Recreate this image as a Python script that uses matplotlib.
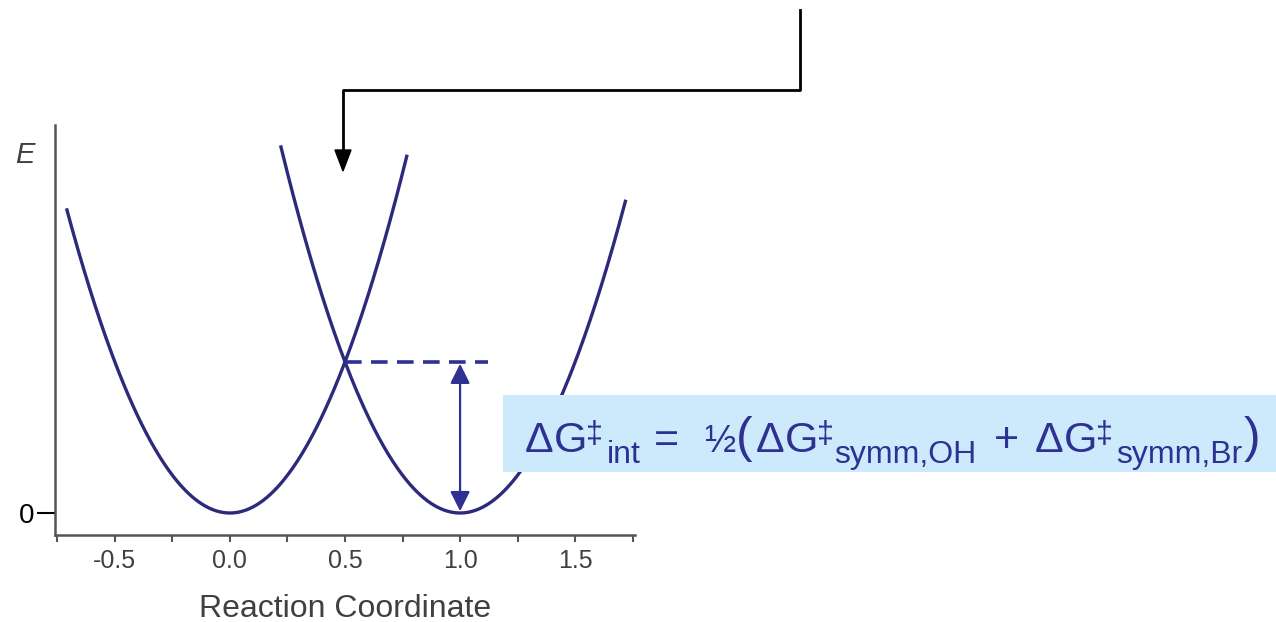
import matplotlib.pyplot as plt
import numpy as np
from matplotlib.lines import Line2D
from matplotlib.patches import Rectangle
from matplotlib.ticker import MultipleLocator

plt.rcParams['font.family'] = ['Liberation Sans', 'DejaVu Sans']

# two identical harmonic wells, reactant at 0 and product at 1
well_centers = [0.0, 1.0]
well_starts = [-0.71, 0.22]
well_ends = [0.77, 1.72]
force_k = 1.0
x_ticks = [-0.5, 0.0, 0.5, 1.0, 1.5]
crossing_x = 0.5
dash_end_x = 1.12

curve_col = '#2d2a7c'
blue = '#2e3192'
grey = '#404040'
W, H = 1276, 622

fig = plt.figure(figsize=(12.76, 6.22), dpi=100)
ax = fig.add_axes([55 / W, 87 / H, 580 / W, 410 / H])

for c, x0, x1 in zip(well_centers, well_starts, well_ends):
    x = np.linspace(x0, x1, 300)
    ax.plot(x, force_k * (x - c) ** 2, color=curve_col, lw=2.4, solid_capstyle='butt')

e_cross = force_k * (crossing_x - well_centers[0]) ** 2
ax.plot([crossing_x, dash_end_x], [e_cross, e_cross], color=blue, lw=2.6,
        dashes=(4.6, 2.6))
ax.annotate('', xy=(well_centers[1], e_cross - 0.003), xytext=(well_centers[1], 0.003),
            arrowprops=dict(arrowstyle='<|-|>', color=blue, lw=1.6,
                            mutation_scale=30, shrinkA=0, shrinkB=0))

ax.set_xlim(-0.76, 1.76)
ax.set_ylim(-0.0364, 0.642)
for s in ['top', 'right']:
    ax.spines[s].set_visible(False)
for s in ['left', 'bottom']:
    ax.spines[s].set_color('#555555')
    ax.spines[s].set_linewidth(1.8)

ax.set_xticks(x_ticks)
ax.set_xticklabels([f'{t:.1f}' for t in x_ticks])
ax.xaxis.set_minor_locator(MultipleLocator(0.25))
ax.tick_params(axis='x', which='both', direction='out', length=5, width=1.5,
               color='#555555', labelsize=18, labelcolor=grey, pad=5)
ax.set_yticks([0])
ax.set_yticklabels(['0'])
ax.tick_params(axis='y', direction='out', length=13, width=1.5, color='black',
               labelsize=20, labelcolor='black', pad=2)
ax.set_xlabel('Reaction Coordinate', fontsize=23, color=grey, labelpad=15)
fig.text(25 / W, 1 - 155 / H, 'E', fontsize=21, style='italic', color=grey,
         ha='center', va='center')

# pointer arrow from the top of the slide down to the crossing point
path_x = [800, 800, 343, 343]
path_y = [10, 90, 90, 150]
fig.add_artist(Line2D([px / W for px in path_x], [1 - py / H for py in path_y],
                      transform=fig.transFigure, color='black', lw=2))
fig.add_artist(plt.Polygon([[335 / W, 1 - 150 / H], [351 / W, 1 - 150 / H],
                            [343 / W, 1 - 171 / H]], closed=True,
                           transform=fig.transFigure, color='black'))

# intrinsic barrier relation, set piece by piece
fig.add_artist(Rectangle((503 / W, 1 - 472 / H), 773 / W, 77 / H,
                         transform=fig.transFigure, facecolor='#cdeafc', edgecolor='none'))

MAIN, HALF, DAG, SUB, PAREN = 31, 27, 22, 23, 36
base_main, base_dag, base_sub, base_paren = 452, 443, 463, 452
pieces = [
    # text, left px, size, baseline px
    ('Δ', 525, MAIN, base_main),
    ('G', 554, MAIN, base_main),
    ('‡', 586, DAG, base_dag),
    ('int', 607, SUB, base_sub),
    ('=', 654, MAIN, base_main),
    ('½', 705, HALF, base_main),
    ('(', 736, PAREN, base_paren),
    ('Δ', 756, MAIN, base_main),
    ('G', 785, MAIN, base_main),
    ('‡', 817, DAG, base_dag),
    ('symm,OH', 834, SUB, base_sub),
    ('+', 994, MAIN, base_main),
    ('Δ', 1035, MAIN, base_main),
    ('G', 1064, MAIN, base_main),
    ('‡', 1096, DAG, base_dag),
    ('symm,Br', 1116, SUB, base_sub),
    (')', 1244, PAREN, base_paren),
]
for txt, px, size, py in pieces:
    fig.text(px / W, 1 - py / H, txt, fontsize=size, color=blue,
             ha='left', va='baseline')

fig.savefig('out.png', dpi=100)
